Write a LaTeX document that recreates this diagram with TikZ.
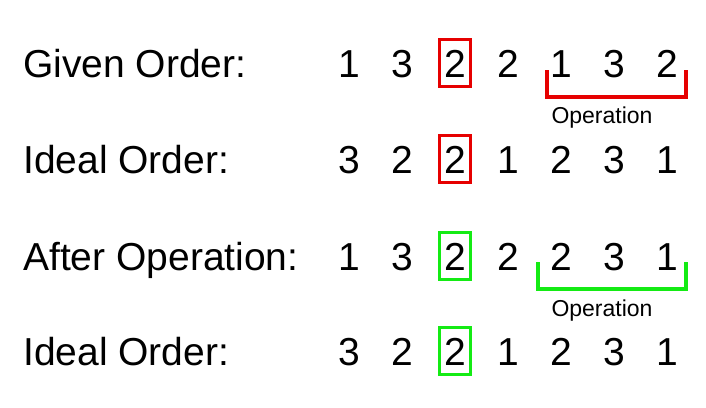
\documentclass[tikz,border=0pt]{standalone}
\usepackage{fontspec}
\setmainfont{Liberation Sans}
\definecolor{markred}{RGB}{230,0,0}
\definecolor{markgreen}{RGB}{20,235,20}
\begin{document}
\begin{tikzpicture}[x=1pt,y=-1pt,
    every node/.style={font=\fontsize{39}{47}\selectfont,inner sep=0pt},
    digit/.style={anchor=base},
    markbox/.style={draw=#1,line width=3pt,minimum width=31pt,minimum height=47pt,anchor=center},
    bracket/.style={draw=#1,line width=4pt},
    oplabel/.style={font=\fontsize{23}{28}\selectfont}]
\useasboundingbox (0,0) rectangle (706,407);
    \node[anchor=base west] (given) at (23,77) {Given Order:};
    \node[anchor=base west] (ideal) at (23,173) {Ideal Order:};
    \node[anchor=base west] (after) at (23,270) {After Operation:};
    \node[anchor=base west] (idealb) at (23,365) {Ideal Order:};
\foreach \i/\d in {1/1,2/3,3/2,4/2,5/1,6/3,7/2}
    \node[digit] (g\i) at ({349+53*(\i-1)},77) {\d};
\foreach \i/\d in {1/3,2/2,3/2,4/1,5/2,6/3,7/1}
{
    \node[digit] (i\i) at ({349+53*(\i-1)},173) {\d};
    \node[digit] (j\i) at ({349+53*(\i-1)},365) {\d};
}
\foreach \i/\d in {1/1,2/3,3/2,4/2,5/2,6/3,7/1}
    \node[digit] (a\i) at ({349+53*(\i-1)},270) {\d};
    % marked digits
    \node[markbox=markred] (gbox) at (g3.center) {};
    \node[markbox=markred] (ibox) at (i3.center) {};
    \node[markbox=markgreen] (abox) at (a3.center) {};
    \node[markbox=markgreen] (jbox) at (j3.center) {};
    % operation brackets
\draw[bracket=markred] (547,70) |- (686,97) -- (686,70);
    \node[oplabel] (gop) at (602,118) {Operation};
\draw[bracket=markgreen] (538,262) |- (686,289) -- (686,262);
    \node[oplabel] (aop) at (602,311) {Operation};
\end{tikzpicture}
\end{document}
